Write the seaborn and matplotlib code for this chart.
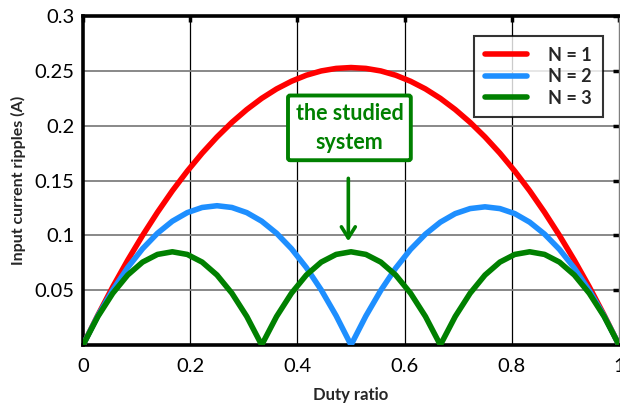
import numpy as np
import pandas as pd
import matplotlib
matplotlib.use("Agg")
import matplotlib.pyplot as plt
import seaborn as sns
from matplotlib.lines import Line2D

# Duty ratio samples (step 1/36)
duty = [i / 36 for i in range(37)]

# Input current ripple (A) for each number of phases
ripple_n1 = [0.0, 0.0273, 0.0531, 0.0773, 0.0999, 0.1210, 0.1406, 0.1585, 0.1749,
             0.1897, 0.2030, 0.2147, 0.2249, 0.2335, 0.2405, 0.2460, 0.2499, 0.2522,
             0.2530,
             0.2522, 0.2499, 0.2460, 0.2405, 0.2335, 0.2249, 0.2147, 0.2030, 0.1897,
             0.1749, 0.1585, 0.1406, 0.1210, 0.0999, 0.0773, 0.0531, 0.0273, 0.0]
ripple_n2 = [0.0, 0.0267, 0.0502, 0.0706, 0.0878, 0.1019, 0.1129, 0.1207, 0.1254,
             0.1270, 0.1254, 0.1207, 0.1129, 0.1019, 0.0878, 0.0706, 0.0502, 0.0267,
             0.0,
             0.0265, 0.0498, 0.0701, 0.0872, 0.1011, 0.1120, 0.1198, 0.1244, 0.1260,
             0.1244, 0.1198, 0.1120, 0.1011, 0.0872, 0.0701, 0.0498, 0.0265, 0.0]
ripple_n3 = [0.0, 0.0260, 0.0472, 0.0638, 0.0756, 0.0826, 0.0850, 0.0826, 0.0756,
             0.0638, 0.0472, 0.0260, 0.0,
             0.0260, 0.0472, 0.0638, 0.0756, 0.0826, 0.0850, 0.0826, 0.0756,
             0.0638, 0.0472, 0.0260, 0.0,
             0.0260, 0.0472, 0.0638, 0.0756, 0.0826, 0.0850, 0.0826, 0.0756,
             0.0638, 0.0472, 0.0260, 0.0]

series_names = ["N = 1", "N = 2", "N = 3"]
series_colors = ["#ff0000", "#1e8fff", "#008000"]

x_ticks = [0, 0.2, 0.4, 0.6, 0.8, 1]
x_tick_labels = ["0", "0.2", "0.4", "0.6", "0.8", "1"]
y_ticks = [0.05, 0.1, 0.15, 0.2, 0.25, 0.3]
y_tick_labels = ["0.05", "0.1", "0.15", "0.2", "0.25", "0.3"]

df = pd.concat([
    pd.DataFrame({"duty": duty, "ripple": vals, "series": name})
    for name, vals in zip(series_names, [ripple_n1, ripple_n2, ripple_n3])
], ignore_index=True)

sns.set_style("white")
plt.rcParams["font.family"] = ["Lato", "DejaVu Sans"]

fig = plt.figure(figsize=(6.2, 4.03), dpi=100)
ax = fig.add_axes([0.1339, 0.1439, 0.8645, 0.8164])

# grid: black vertical, grey horizontal
for xv in x_ticks[1:-1]:
    ax.axvline(xv, color="black", lw=0.9, zorder=0)
for yv in y_ticks[:-1]:
    ax.axhline(yv, color="#7f7f7f", lw=1.3, zorder=0)

sns.lineplot(data=df, x="duty", y="ripple", hue="series", palette=series_colors,
             hue_order=series_names, linewidth=4.0, ax=ax, legend=False,
             zorder=3, solid_joinstyle="round", solid_capstyle="round")

ax.set_xlim(0, 1)
ax.set_ylim(0, 0.3)
ax.set_xticks(x_ticks)
ax.set_xticklabels(x_tick_labels)
ax.set_yticks(y_ticks)
ax.set_yticklabels(y_tick_labels)
ax.tick_params(axis="both", direction="in", length=4, width=2.5, labelsize=14.5,
               colors="black", top=True, right=True, pad=6)
ax.tick_params(axis="x", pad=9)

for side in ["left", "bottom", "top"]:
    ax.spines[side].set_color("black")
    ax.spines[side].set_linewidth(2.6)
ax.spines["right"].set_color("#7f7f7f")
ax.spines["right"].set_linewidth(1.0)

ax.set_xlabel("Duty ratio", fontsize=12, fontweight="bold", labelpad=9)
ax.set_ylabel("Input current ripples (A)", fontsize=11.5, fontweight="bold",
              labelpad=6)

# legend
handles = [Line2D([], [], color=c, lw=4.0) for c in series_colors]
leg = ax.legend(handles, series_names, loc="upper right",
                bbox_to_anchor=(0.97, 0.94), borderaxespad=0.0,
                frameon=True, fancybox=False,
                handlelength=2.3, handletextpad=1.2, borderpad=0.6,
                labelspacing=0.25, prop={"weight": "bold", "size": 13})
leg.get_frame().set_edgecolor("black")
leg.get_frame().set_linewidth(1.5)

# callout
ax.annotate("", xy=(0.495, 0.092), xytext=(0.495, 0.1545),
            arrowprops=dict(arrowstyle="->,head_length=0.8,head_width=0.5",
                            color="#008000", lw=2.6), zorder=5)
ax.text(0.497, 0.198, "the studied\nsystem", ha="center", va="center",
        fontsize=15.5, fontweight="bold", color="#008000", linespacing=1.45,
        bbox=dict(boxstyle="round,pad=0.35,rounding_size=0.1", fc="white",
                  ec="#008000", lw=2.8), zorder=6)

fig.savefig("out.png", dpi=100)
